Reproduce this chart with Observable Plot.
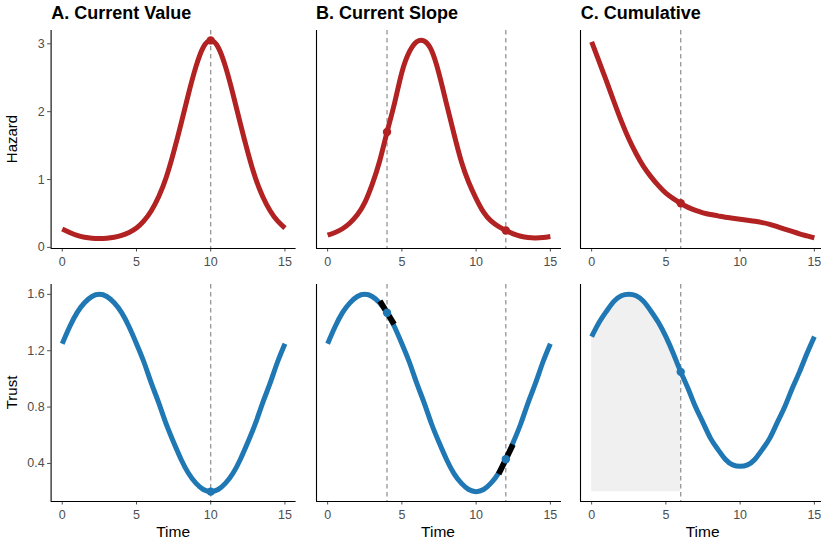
<!DOCTYPE html>
<html>
<head>
<meta charset="utf-8">
<script src="https://cdn.jsdelivr.net/npm/d3@7"></script>
<script src="https://cdn.jsdelivr.net/npm/@observablehq/plot@0.6"></script>
<style>
  html, body { margin: 0; padding: 0; background: #fff; overflow: hidden; }
  #root { position: relative; width: 821px; height: 546px; overflow: hidden; font-family: "Liberation Sans", Arial, Helvetica, sans-serif; }
  .panel { position: absolute; }
  .panel svg { max-width: none !important; }
  #labels { position: absolute; left: 0; top: 0; pointer-events: none; }
</style>
</head>
<body>
<div id="root"></div>
<script>
// ---------------- data ----------------
const time = [0,0.5,1,1.5,2,2.5,3,3.5,4,4.5,5,5.5,6,6.5,7,7.5,8,8.5,9,9.5,10,10.5,11,11.5,12,12.5,13,13.5,14,14.5,15];

const trustAB = [1.25,1.37,1.47,1.54,1.585,1.6,1.585,1.54,1.47,1.37,1.25,1.12,0.97,0.83,0.68,0.55,0.43,0.33,0.26,0.215,0.2,0.215,0.26,0.33,0.43,0.55,0.68,0.83,0.97,1.12,1.25];
const trustC  = [1.30,1.40,1.48,1.55,1.59,1.6,1.59,1.55,1.48,1.40,1.30,1.18,1.05,0.93,0.80,0.69,0.58,0.50,0.43,0.39,0.38,0.39,0.43,0.50,0.58,0.69,0.80,0.93,1.05,1.18,1.30];

const hazardA = [0.27,0.22,0.176,0.15,0.135,0.13,0.135,0.15,0.176,0.22,0.285,0.39,0.54,0.75,1.03,1.40,1.82,2.26,2.66,2.95,3.05,2.95,2.66,2.26,1.82,1.40,1.03,0.75,0.54,0.39,0.285];
const hazardB = [0.18,0.22,0.275,0.36,0.48,0.66,0.93,1.27,1.70,2.12,2.58,2.88,3.03,3.04,2.90,2.56,2.12,1.68,1.27,0.96,0.72,0.52,0.39,0.31,0.25,0.20,0.165,0.145,0.14,0.145,0.16];
const hazardC = [3.03,2.74,2.45,2.15,1.86,1.60,1.38,1.19,1.04,0.91,0.80,0.72,0.65,0.59,0.545,0.51,0.485,0.465,0.445,0.43,0.415,0.40,0.385,0.365,0.34,0.305,0.27,0.235,0.20,0.17,0.14];

const markersA = [10];
const markersB = [4, 12];
const markersC = [6];
const tangentSlopes = [-0.172, 0.218];   // slope of trust at the B markers
const tangentHalf = 0.48;                // half length (time units) of tangent segments
const areaBase = 0.2;                    // baseline of the cumulative shaded area

const titles = ["A. Current Value", "B. Current Slope", "C. Cumulative"];
const rowLabels = ["Hazard", "Trust"];
const xLabel = "Time";
const xTicks = [0, 5, 10, 15];
const hazardTicks = [0, 1, 2, 3];
const trustTicks = [0.4, 0.8, 1.2, 1.6];

// ---------------- styling ----------------
const RED = "#B22222", BLUE = "#1F78B4";
const xDomain = [-0.75, 15.75];
const hazardDomain = [-0.016, 3.196];
const trustDomain = [0.13, 1.67];
const PW = 245;
const panelLefts = [50.6, 315.5, 580.1];
const rows = [{top: 30, h: 218, mT: 10, mB: 30}, {top: 284, h: 217, mT: 10, mB: 25}];

const tbl = (ys) => time.map((t, i) => ({t, v: ys[i]}));
const at = (ys, t) => ys[time.indexOf(t)];

const root = document.getElementById("root");

function panel({col, row, series, color, yDomain, yTicks, yFmt, markers, extra = [], top = []}) {
  const showY = col === 0;
  const mL = showY ? panelLefts[0] : 15, mR = 10;
  const R = rows[row];
  const data = tbl(series);
  const W = mL + PW + mR;
  const chart = Plot.plot({
    width: W,
    height: R.mT + R.h + R.mB,
    marginLeft: mL, marginRight: mR, marginTop: R.mT, marginBottom: R.mB,
    style: {fontFamily: "'Liberation Sans', Arial, Helvetica, sans-serif", fontSize: "12.5px", color: "#4d4d4d", background: "transparent", overflow: "visible", maxWidth: "none"},
    x: {domain: xDomain, ticks: xTicks, tickSize: 3.5, tickPadding: 5, label: null},
    y: {domain: yDomain, ticks: yTicks, tickFormat: yFmt, tickSize: 3.5, tickPadding: 3, label: null, axis: showY ? "left" : null},
    marks: [
      ...extra,
      Plot.ruleX(markers, {stroke: "#8c8c8c", strokeWidth: 1.2, strokeDasharray: "4.5,3.5"}),
      Plot.ruleX([xDomain[0]], {stroke: "#000", strokeWidth: 1.1}),
      Plot.ruleY([yDomain[0]], {stroke: "#000", strokeWidth: 1.1}),
      Plot.line(data, {x: "t", y: "v", stroke: color, strokeWidth: 5, curve: "natural", strokeLinecap: "butt"}),
      ...top,
      Plot.dot(markers.map(t => ({t, v: at(series, t)})), {x: "t", y: "v", r: 4.2, fill: color, stroke: "none"})
    ]
  });
  const wrap = document.createElement("div");
  wrap.className = "panel";
  wrap.style.left = (panelLefts[col] - mL) + "px";
  wrap.style.top = (R.top - R.mT) + "px";
  wrap.style.width = W + "px";
  wrap.appendChild(chart);
  root.appendChild(wrap);
}

const f1 = d3.format(".1f");
const fH = d3.format("d");

// Row 1: hazard
panel({col: 0, row: 0, series: hazardA, color: RED, yDomain: hazardDomain, yTicks: hazardTicks, yFmt: fH, markers: markersA});
panel({col: 1, row: 0, series: hazardB, color: RED, yDomain: hazardDomain, yTicks: hazardTicks, yFmt: fH, markers: markersB});
panel({col: 2, row: 0, series: hazardC, color: RED, yDomain: hazardDomain, yTicks: hazardTicks, yFmt: fH, markers: markersC});

// Row 2: trust
panel({col: 0, row: 1, series: trustAB, color: BLUE, yDomain: trustDomain, yTicks: trustTicks, yFmt: f1, markers: markersA});
const tangents = markersB.map((t, i) => ({t, v: at(trustAB, t), s: tangentSlopes[i]}));
panel({col: 1, row: 1, series: trustAB, color: BLUE, yDomain: trustDomain, yTicks: trustTicks, yFmt: f1, markers: markersB,
  top: [Plot.link(tangents, {
    x1: d => d.t - tangentHalf, y1: d => d.v - tangentHalf * d.s,
    x2: d => d.t + tangentHalf, y2: d => d.v + tangentHalf * d.s,
    stroke: "#000", strokeWidth: 5.8, strokeLinecap: "butt"})]});
const areaData = tbl(trustC).filter(d => d.t <= markersC[0]);
panel({col: 2, row: 1, series: trustC, color: BLUE, yDomain: trustDomain, yTicks: trustTicks, yFmt: f1, markers: markersC,
  extra: [Plot.areaY(areaData, {x: "t", y1: areaBase, y2: "v", fill: "#f0f0f0", curve: "natural"})]});

// ---------------- text overlay ----------------
const ns = "http://www.w3.org/2000/svg";
const svg = document.createElementNS(ns, "svg");
svg.setAttribute("id", "labels");
svg.setAttribute("width", 821);
svg.setAttribute("height", 546);
svg.style.fontFamily = "'Liberation Sans', Arial, Helvetica, sans-serif";
function txt(s, attrs) {
  const e = document.createElementNS(ns, "text");
  for (const k in attrs) e.setAttribute(k, attrs[k]);
  e.textContent = s;
  svg.appendChild(e);
}
titles.forEach((s, i) => txt(s, {x: panelLefts[i] + 0.6, y: 19, "font-size": 18, "font-weight": "bold", fill: "#000"}));
rowLabels.forEach((s, i) => {
  const R = rows[i];
  txt(s, {transform: `translate(17,${R.top + R.h / 2}) rotate(-90)`, "text-anchor": "middle", "font-size": 15, fill: "#000"});
});
panelLefts.forEach(l => txt(xLabel, {x: l + PW / 2, y: 536.5, "text-anchor": "middle", "font-size": 15.5, fill: "#000"}));
root.appendChild(svg);
</script>
</body>
</html>
